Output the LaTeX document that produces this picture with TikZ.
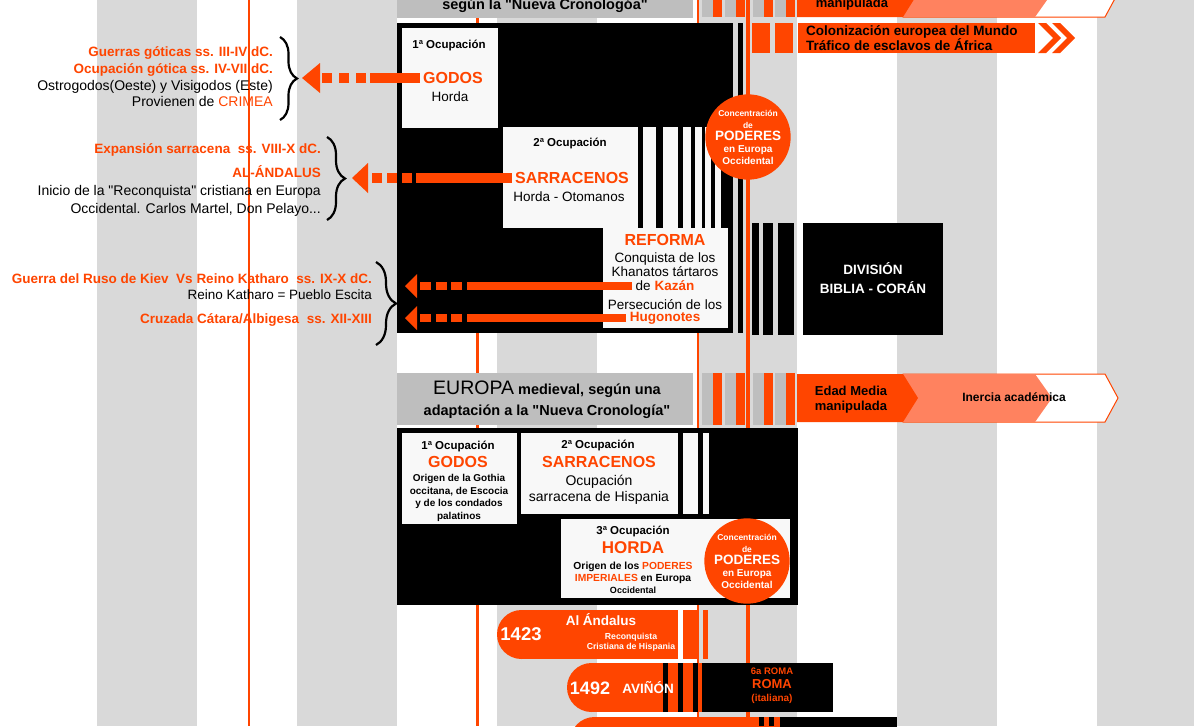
\documentclass[tikz,border=0pt]{standalone}
\usepackage{fontspec}
\setmainfont{Liberation Sans}
\usetikzlibrary{decorations.pathreplacing,positioning}
\definecolor{naranja}{RGB}{255,69,0}
\definecolor{salmon}{RGB}{255,130,95}
\definecolor{gris}{RGB}{217,217,217}
\definecolor{grisosc}{RGB}{190,190,190}
\definecolor{blanco}{RGB}{248,248,248}
\newcommand{\tam}[2]{\fontsize{#1}{#2}\selectfont}
\newcommand{\cq}{\textquotedbl}

\begin{document}
\begin{tikzpicture}[x=1pt,y=-1pt]
\tikzset{
    caja/.style={%
        fill=blanco, inner sep=0pt,
        anchor=north west
        },
    negro/.style={%
        fill=black, inner sep=0pt,
        anchor=north west
        },
    circ/.style={%
        circle, fill=naranja, text=white,
        minimum size=80pt, inner sep=0pt,
        align=center, font=\bfseries
        },
    ocup/.style={font=\bfseries\tam{11.5}{13}},
    nombre/.style={font=\bfseries\tam{16}{18}, text=naranja},
    desc/.style={font=\tam{13.5}{14}},
    izq/.style={anchor=east, align=right, inner sep=0pt},
    barra/.style={naranja, line width=10pt},
    barrita/.style={naranja, line width=8pt},
    llave/.style={decorate, line width=2.2pt, decoration={brace, amplitude=#1}},
}
\useasboundingbox (0,0) rectangle (1194,726);
\clip (0,0) rectangle (1194,726);
%%%FONDO
\fill[white] (0,0) rectangle (1194,726);
\foreach \x in {97,297,...,1097}
    \fill[gris] (\x,0) rectangle ++(100,726);
\draw[naranja, line width=1.5pt] (249,0) -- (249,726);
\draw[naranja, line width=3pt] (477,0) -- (477,726);
\draw[naranja, line width=2pt] (698,0) -- (698,726);
\draw[naranja, line width=3.5pt] (748,0) -- (748,726);
%%%CABECERA SUPERIOR
\fill[grisosc] (397,0) rectangle (693,18);
\node[font=\bfseries\tam{14.5}{16}] (cron1) at (545,6) {según la \cq Nueva Cronologóa\cq};
\foreach \x in {702,725,753,775}{
    \fill[grisosc] (\x,0) rectangle ++(20,17);
    \fill[naranja] (\x+11,0) rectangle ++(9,17);
}
\filldraw[fill=white, draw=naranja, line width=1pt] (903,-31) -- (1105,-31) -- (1118,-7) -- (1105,17) -- (903,17) -- cycle;
\fill[salmon] (903,-31) -- (1035,-31) -- (1052,-7) -- (1035,17) -- (903,17) -- cycle;
\fill[naranja] (797,-31) -- (903,-31) -- (918,-7) -- (903,17) -- (797,17) -- cycle;
\node[font=\bfseries\tam{13}{15}] (manip1) at (852,4) {manipulada};
%%%COLONIZACION
\foreach \x in {752,775}
    \fill[naranja] (\x,23) rectangle ++(18,30);
\fill[naranja] (798,23) rectangle (1035,53);
\foreach \x in {1038,1052}
    \fill[naranja] (\x,23) -- ++(8,0) -- ++(15,15) -- ++(-15,15) -- ++(-8,0) -- ++(15,-15) -- cycle;
\node[anchor=west, align=left, inner sep=0pt, font=\bfseries\tam{13.5}{15}] (colon) at (806,38)
    {Colonización europea del Mundo\\Tráfico de esclavos de África};
%%%BLOQUE SUPERIOR
\node[negro, minimum width=336pt, minimum height=310pt] (bloque1) at (397,23) {};
\fill[black] (738,23) rectangle (743,333);
\node[caja, minimum width=96pt, minimum height=100pt] (caja1) at (402,28) {};
\node[caja, minimum width=135pt, minimum height=101pt] (caja2) at (503,127) {};
\foreach \a/\b in {643/656,663/678,683/691,695/702,705/711,715/721}
    \fill[blanco] (\a,127) rectangle (\b,228);
\node[caja, minimum width=125pt, minimum height=100pt] (caja3) at (603,228) {};
\node[ocup] (ocup1) at (449,45) {1ª Ocupación};
\node[nombre] (godos1) at (453,78) {GODOS};
\node[desc] (horda1) at (450,97) {Horda};
\node[ocup] (ocup2) at (570,143) {2ª Ocupación};
\node[nombre] (sarr1) at (572,178) {SARRACENOS};
\node[desc] (otom) at (569,197) {Horda - Otomanos};
\node[nombre] (reforma) at (665,240) {REFORMA};
\node[desc, align=center] (khan) at (665,265) {Conquista de los\\Khanatos tártaros};
\node[desc] (kazan) at (665,286) {de \textcolor{naranja}{\bfseries Kazán}};
\node[desc] (persec) at (665,305) {Persecución de los};
\node[font=\bfseries\tam{13.5}{15}, text=naranja] (hugo) at (665,318) {Hugonotes};
\node[circ] (poder1) at (748,137) {\tam{8.5}{11}Concentración\\\tam{8.5}{10}de\\\tam{13.5}{13}PODERES\\\tam{10}{13}en Europa\\\tam{10}{12}Occidental};
%%%FLECHAS
\coordinate (puntaA) at (302,78);
\coordinate (puntaB) at (352,178);
\coordinate (puntaC) at (405,286);
\coordinate (puntaD) at (405,318);
\draw[barra] (godos1.west) -- (370,78);
\draw[barra, dash pattern=on 10pt off 7pt] (366,78) -- (321,78);
\fill[naranja] (puntaA) -- ++(18,-15) -- ++(0,30) -- cycle;
\draw[barra] (sarr1.west) -- (416,178);
\draw[barra, dash pattern=on 10pt off 5pt] (412,178) -- (369,178);
\fill[naranja] (puntaB) -- ++(16,-15) -- ++(0,30) -- cycle;
\draw[barrita] (kazan.west) -- (467,286);
\draw[barrita, dash pattern=on 11pt off 4.5pt] (462,286) -- (418,286);
\fill[naranja] (puntaC) -- ++(12,-12) -- ++(0,24) -- cycle;
\draw[barrita] (hugo.west) -- (467,318);
\draw[barrita, dash pattern=on 11pt off 4.5pt] (462,318) -- (418,318);
\fill[naranja] (puntaD) -- ++(12,-12) -- ++(0,24) -- cycle;
%%%TEXTOS IZQUIERDA
\draw[llave=17pt] (280,37) -- (280,120);
\draw[llave=18pt] (327,137) -- (327,220);
\draw[llave=20pt] (376,262) -- (376,345);
\node[izq, font=\tam{14}{16.7}] (guerras) at (273,77)
    {\textcolor{naranja}{\bfseries\tam{13.5}{16.7}Guerras góticas ss. III-IV dC.}\\
     \textcolor{naranja}{\bfseries\tam{13.5}{16.7}Ocupación gótica ss. IV-VII dC.}\\
     Ostrogodos(Oeste) y Visigodos (Este)\\
     Provienen de \textcolor{naranja}{CRIMEA}};
\node[izq, font=\tam{14}{18}] (andalus) at (321,180)
    {\textcolor{naranja}{\bfseries\tam{13.5}{18}Expansión sarracena\ \ ss. VIII-X dC.}\\[6pt]
     \textcolor{naranja}{\bfseries\tam{13.5}{18}AL-ÁNDALUS}\\
     Inicio de la \cq Reconquista\cq{} cristiana en Europa\\
     Occidental. Carlos Martel, Don Pelayo...};
\node[izq, font=\tam{13.5}{16}] (kiev) at (372,300)
    {\textcolor{naranja}{\bfseries Guerra del Ruso de Kiev\ \ Vs Reino Katharo\ \ ss. IX-X dC.}\\
     Reino Katharo = Pueblo Escita\\[8pt]
     \textcolor{naranja}{\bfseries Cruzada Cátara/Albigesa\ \ ss. XII-XIII}};
%%%DIVISION
\foreach \a/\b in {752/759,763/773,778/794}
    \fill[black] (\a,223) rectangle (\b,335);
\node[negro, minimum width=140pt, minimum height=112pt] (division) at (803,223) {};
\node[font=\bfseries\tam{13.5}{19}, text=white, align=center] (divtxt) at (873,278) {DIVISIÓN\\BIBLIA - CORÁN};
%%%CABECERA MEDIA
\fill[grisosc] (397,373) rectangle (693,425);
\node[align=center, font=\bfseries\tam{14.5}{21}] (europa) at (547,400)
    {{\mdseries\tam{19.5}{21}EUROPA} medieval, según una\\adaptación a la \cq Nueva Cronología\cq};
\foreach \x in {702,725,753,775}{
    \fill[grisosc] (\x,373) rectangle ++(20,52);
    \fill[naranja] (\x+11,373) rectangle ++(9,52);
}
\filldraw[fill=white, draw=naranja, line width=1pt] (903,374) -- (1105,374) -- (1118,398) -- (1105,422) -- (903,422) -- cycle;
\fill[salmon] (903,374) -- (1035,374) -- (1052,398) -- (1035,422) -- (903,422) -- cycle;
\fill[naranja] (797,374) -- (903,374) -- (918,398) -- (903,422) -- (797,422) -- cycle;
\node[align=left, font=\bfseries\tam{13}{15}] (edad) at (851,400) {Edad Media\\manipulada};
\node[font=\bfseries\tam{12}{14}] (inercia) at (1014,397) {Inercia académica};
%%%BLOQUE INFERIOR
\node[negro, minimum width=401pt, minimum height=177pt] (bloque2) at (397,428) {};
\node[caja, minimum width=115pt, minimum height=91pt] (lcaja1) at (402,433) {};
\node[caja, minimum width=157pt, minimum height=81pt] (lcaja2) at (521,433) {};
\fill[blanco] (683,433) rectangle (698,514);
\fill[blanco] (703,433) rectangle (709,514);
\node[caja, minimum width=229pt, minimum height=79pt] (lcaja3) at (561,519) {};
\node[ocup] (locup1) at (458,446) {1ª Ocupación};
\node[nombre] (lgodos) at (458,462) {GODOS};
\node[align=center, font=\bfseries\tam{10}{12.5}] (gothia) at (459,498)
    {Origen de la Gothia\\occitana, de Escocia\\y de los condados\\palatinos};
\node[ocup] (locup2) at (598,445) {2ª Ocupación};
\node[nombre] (lsarr) at (599,462) {SARRACENOS};
\node[align=center, font=\tam{14}{16.5}] (hisp) at (599,490) {Ocupación\\sarracena de Hispania};
\node[ocup] (locup3) at (633,531) {3ª Ocupación};
\node[nombre, font=\bfseries\tam{17}{18}] (horda) at (633,548) {HORDA};
\node[align=center, font=\bfseries\tam{10.3}{12}] (imper) at (633,578)
    {Origen de los \textcolor{naranja}{PODERES}\\\textcolor{naranja}{IMPERIALES} en Europa\\\tam{9}{11}Occidental};
\node[circ] (poder2) at (747,561) {\tam{8.5}{11}Concentración\\\tam{8.5}{10}de\\\tam{13.5}{13}PODERES\\\tam{10}{13}en Europa\\\tam{10}{12}Occidental};
%%%FECHAS
\fill[naranja] (521.5,634.5) circle (24.5);
\fill[naranja] (521.5,610) rectangle (678,659);
\fill[naranja] (683,610) rectangle (697,659);
\fill[naranja] (703,610) rectangle (708,659);
\node[font=\bfseries\tam{18.5}{20}, text=white] (f1423) at (521,634) {1423};
\node[font=\bfseries\tam{13.5}{15}, text=white] (alandalus) at (601,620) {Al Ándalus};
\node[align=center, font=\bfseries\tam{8.7}{10}, text=white] (reconq) at (631,642) {Reconquista\\Cristiana de Hispania};
\fill[naranja] (591.5,687.5) circle (24.5);
\fill[naranja] (591.5,663) rectangle (703,712);
\foreach \a in {663,678,693}
    \fill[black] (\a,663) rectangle ++(5,49);
\node[negro, minimum width=131pt, minimum height=49pt] (roma) at (702,663) {};
\node[font=\bfseries\tam{18}{20}, text=white] (f1492) at (590,688) {1492};
\node[font=\bfseries\tam{13.5}{15}, text=white] (avinon) at (648,688) {AVIÑÓN};
\node[align=center, font=\bfseries\tam{9.5}{13.5}, text=naranja] (romatxt) at (772,686)
    {6a ROMA\\\tam{13}{13.5}ROMA\\\tam{10}{12}(italiana)};
\fill[naranja] (594.5,741.5) circle (24.5);
\fill[naranja] (594.5,717) rectangle (780,766);
\fill[black] (759,717) rectangle (764,726);
\fill[black] (769,717) rectangle (774,726);
\fill[black] (780,717) rectangle (897,766);
\end{tikzpicture}
\end{document}
